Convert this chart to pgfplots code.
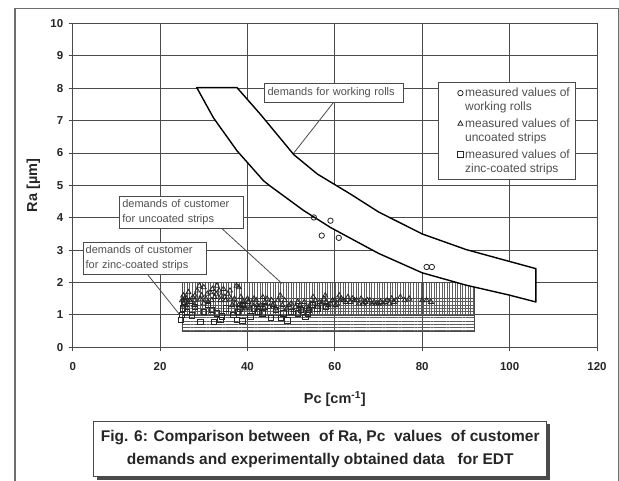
\documentclass[border=0pt]{standalone}
\usepackage{fontspec}
\setmainfont{Liberation Sans}
\usepackage{pgfplots}
\pgfplotsset{compat=1.18}
\usetikzlibrary{patterns.meta}
\definecolor{gridc}{HTML}{4A4A4A}
\definecolor{txtgray}{HTML}{505050}
\definecolor{markc}{HTML}{262626}
\definecolor{hatchc}{HTML}{5E5E5E}
\pgfplotsset{mylegimg/.style={legend image code/.code={\path (0cm,0cm) (0.66cm,0cm); \draw[##1] plot coordinates {(0.62cm,0cm)};}, legend image post style={yshift=7pt}}}
\begin{document}
\begin{tikzpicture}
\useasboundingbox (0pt,0pt) rectangle (619pt,481pt);
\fill[white] (0pt,0pt) rectangle (619pt,481pt);
\draw[gridc!80, line width=1.4pt] (15pt,-5pt) -- (15pt,472.7pt) -- (618.2pt,472.7pt) -- (618.2pt,-5pt);
\begin{axis}[
  at={(72.7pt,133.7pt)}, anchor=south west,
  scale only axis, width=524.3pt, height=323.8pt,
  xmin=0, xmax=120, ymin=0, ymax=10,
  xtick={0,20,...,120}, ytick={0,1,...,10},
  grid=major, grid style={gridc, line width=0.9pt},
  axis line style={gridc, line width=0.9pt},
  tick style={gridc, line width=0.9pt},
  tick align=outside, major tick length=4pt,
  xtick pos=left, ytick pos=left,
  /pgf/number format/assume math mode=true,
  ticklabel style={font=\fontsize{11.5}{13}\selectfont\bfseries, text=black!85},
  xticklabel style={yshift=-8pt},
  yticklabel style={xshift=-2pt},
  xlabel={Pc [cm\textsuperscript{-1}]},
  xlabel style={font=\fontsize{14.5}{16}\selectfont\bfseries, text=black!85, at={(axis description cs:0.5,-0.159)}, anchor=center},
  ylabel={Ra [µm]},
  ylabel style={font=\fontsize{14.5}{16}\selectfont\bfseries, text=black!85, at={(axis description cs:-0.0748,0.5)}, anchor=center},
  legend style={at={(axis cs:83.6,8.19)}, anchor=north west, draw=gridc, line width=0.8pt, fill=white,
    font=\fontsize{12}{14}\selectfont, text=txtgray,
    cells={anchor=west, align=left}, row sep=2.5pt, inner xsep=4pt, inner ysep=3.5pt,
    /tikz/every odd column/.append style={text width=108pt}},
]
% customer demand rectangles
\addplot[forget plot, draw=gridc, line width=0.7pt, pattern={Lines[angle=0,distance=3.2pt,line width=0.7pt]}, pattern color=hatchc]
  coordinates {(25,0.5) (92,0.5) (92,1.5) (25,1.5)} -- cycle;
\addplot[forget plot, draw=gridc, line width=0.7pt, pattern={Lines[angle=90,distance=2.6pt,line width=0.7pt]}, pattern color=hatchc]
  coordinates {(25,1) (92,1) (92,2) (25,2)} -- cycle;
% working rolls band
\addplot[forget plot, black, line width=1.4pt, fill=white, line join=round] coordinates {
(28.4,8.02) (37.6,8.02) (43,7.19) (50.6,5.95) (56,5.35) (63.6,4.73) (70,4.18) (80,3.5) (90,3.02) (100,2.65) (106,2.43)
(106,1.40) (100,1.61) (90,1.92) (80,2.3) (70,2.9) (59,3.7) (52.9,4.22) (45,5.0) (43.7,5.14) (37.6,6.07) (32.2,7.09)} -- cycle;
% leader lines
\draw[gridc, line width=0.8pt] (axis cs:59.8,7.58) -- (axis cs:50.6,6.0);
\draw[gridc, line width=0.8pt] (axis cs:33.8,3.71) -- (axis cs:47.9,1.97);
\draw[gridc, line width=0.8pt] (axis cs:17.0,2.27) -- (axis cs:24.6,0.99);
% annotation boxes
\node[draw=gridc, fill=white, line width=0.8pt, anchor=north west, text width=132pt, inner xsep=3.5pt, minimum height=18.4pt,
  font=\fontsize{11}{14}\selectfont, text=txtgray] at (axis cs:43.7,8.15) {demands for working rolls};
\node[draw=gridc, fill=white, line width=0.8pt, anchor=north west, text width=118.4pt, inner xsep=2.5pt, minimum height=31.7pt,
  font=\fontsize{11}{15}\selectfont, text=txtgray, align=left] at (axis cs:10.7,4.68) {demands of customer\\for uncoated strips};
\node[draw=gridc, fill=white, line width=0.8pt, anchor=north west, text width=118.4pt, inner xsep=2.5pt, minimum height=31.7pt,
  font=\fontsize{11}{15}\selectfont, text=txtgray, align=left] at (axis cs:2.3,3.25) {demands of customer\\for zinc-coated strips};
% measured values
\addplot[only marks, mark=o, mark size=2.7pt, markc, line width=0.8pt, mylegimg]
  coordinates {(55.2,4.01) (57,3.45) (59,3.91) (60.9,3.38) (81,2.48) (82.2,2.48)};
\addlegendentry{measured values of\\working rolls}
\addplot[only marks, mark=triangle, mark size=2.9pt, markc, line width=0.8pt, mylegimg]
  coordinates {
(25.0,1.45) (25.3,1.6) (25.5,1.35) (26,1.5) (26.5,1.7) (27,1.4) (27.5,1.55) (28,1.45) (28.5,1.75) (29,1.9)
(29.5,1.6) (30,1.85) (30.5,1.5) (31,1.4) (31.5,1.7) (32,1.8) (32.5,1.55) (33,1.9) (33.5,1.75) (34,1.6)
(34.5,1.8) (35,1.45) (36,1.75) (37,1.5) (37.5,1.9) (38,1.85) (38,1.3) (39,1.4) (39.5,1.2) (40,1.5)
(41,1.35) (42,1.45) (43,1.3) (43.5,1.55) (44,1.4) (45,1.25) (46,1.35) (47,1.45) (47.5,1.6) (48,1.3)
(49,1.2) (50,1.35) (51,1.25) (52,1.3) (53,1.4) (54,1.2) (55,1.55) (55.5,1.45) (57,1.35) (57.5,1.5)
(58,1.4) (59,1.35) (60,1.45) (61,1.6) (61.5,1.5) (62,1.45) (63,1.55) (64,1.5) (65,1.45) (66,1.5)
(67,1.4) (68,1.45) (69,1.4) (70,1.35) (70.5,1.4) (71,1.35) (72,1.45) (73,1.5) (74,1.45) (75,1.55)
(76,1.45) (77,1.5) (80,1.45) (81,1.45) (82,1.4)
(26,1.3) (28,1.6) (30,1.35) (36.5,1.3) (40.5,1.2) (42.5,1.25) (45.5,1.45) (50.5,1.15) (52.5,1.2) (56,1.25)
(58.5,1.3) (60.5,1.35) (62.5,1.4) (66.5,1.35) (68.5,1.35)
(25.2,1.25) (25.8,1.55) (26.8,1.45) (27.8,1.3) (29.2,1.5) (30.8,1.65) (31.8,1.45) (32.8,1.65) (33.8,1.45) (34.8,1.55)
(35.5,1.65) (36.2,1.5) (37.2,1.35) (38.5,1.55) (39.2,1.3) (40.2,1.4) (41.5,1.5) (42.2,1.3) (43.8,1.2) (44.5,1.5)
(45.8,1.3) (46.5,1.2) (48.5,1.45) (49.5,1.3) (51.5,1.4) (53.5,1.25) (54.5,1.35) (56.5,1.4) (57.8,1.6) (59.5,1.45)
(60.2,1.3) (61.2,1.45) (63.5,1.4) (64.5,1.45) (65.5,1.35) (67.5,1.45) (69.5,1.35) (71.5,1.4) (72.5,1.35) (73.5,1.4)};
\addlegendentry{measured values of\\uncoated strips}
\addplot[only marks, mark=square, mark size=2.7pt, markc, line width=0.8pt, mylegimg]
  coordinates {
(24.8,0.85) (25.2,1.2) (25.5,1.4) (27.3,0.99) (28,1.25) (29.2,0.79) (30,1.1) (31,1.3) (32.3,0.79) (33,1.05)
(34.2,0.95) (35,1.2) (37.6,0.84) (37.8,1.1) (38.8,0.81) (39,1.3) (40.7,0.95) (41.5,1.2) (43.4,1.05) (44,1.25)
(45.3,0.90) (46.5,1.15) (47.6,0.90) (49.1,0.83) (50,1.1) (51.5,1.05) (53.3,0.93) (54,1.15) (55,1.3) (56,1.2) (58,1.25)
(25.0,1.0) (26.2,1.1) (31.8,1.15) (33.8,0.85) (36.8,1.0) (38.2,1.2) (42.5,1.1) (48.2,1.05) (52.2,1.15) (53.8,1.05)};
\addlegendentry{measured values of\\zinc-coated strips}
\end{axis}
% caption box with shadow
\fill[gridc] (96.9pt,1pt) rectangle (549.6pt,56.7pt);
\node[draw=gridc, line width=1pt, fill=white, minimum width=452.7pt, minimum height=55.7pt, inner sep=0pt, align=center,
  font=\fontsize{15.5}{23}\selectfont\bfseries, text=black!85] at (320.25pt,31.85pt)
  {Fig. 6: Comparison between \ of Ra, Pc \ values \ of customer\\demands and experimentally obtained data \ \ for EDT};
\end{tikzpicture}
\end{document}
